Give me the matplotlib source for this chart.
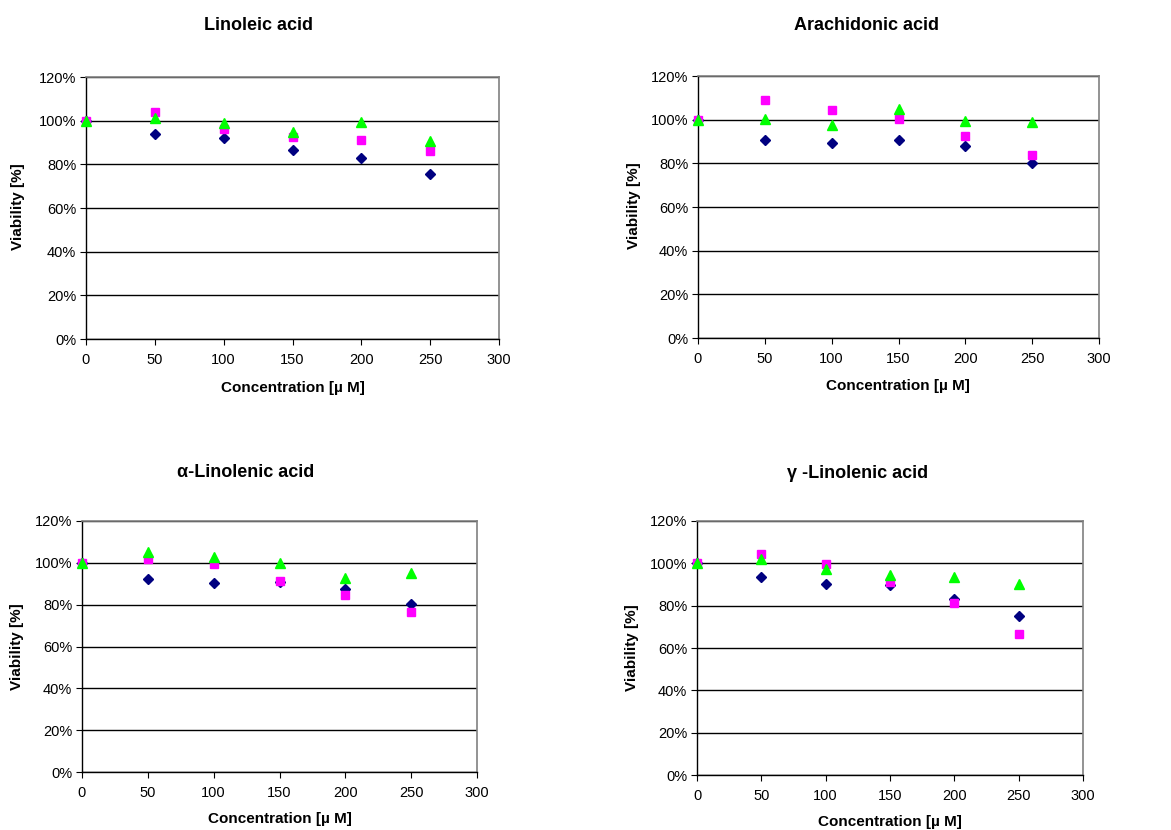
import numpy as np
import matplotlib
matplotlib.use("Agg")
import matplotlib.pyplot as plt
from matplotlib.ticker import PercentFormatter

plt.rcParams['font.family'] = ['Liberation Sans', 'DejaVu Sans']

conc = [0, 50, 100, 150, 200, 250]

titles = ["Linoleic acid", "Arachidonic acid", "\u03b1-Linolenic acid", "\u03b3 -Linolenic acid"]

# viability values (%) per panel: diamond, square, triangle series
linoleic_d = [100, 94.0, 92.1, 86.5, 82.9, 75.8]
linoleic_s = [100, 103.9, 96.0, 92.4, 91.2, 86.2]
linoleic_t = [100, 101.0, 99.0, 95.0, 99.2, 90.9]

arachidonic_d = [100, 90.9, 89.2, 90.5, 88.0, 80.0]
arachidonic_s = [100, 108.8, 104.5, 100.3, 92.4, 83.9]
arachidonic_t = [100, 100.5, 97.7, 104.8, 99.4, 98.8]

alpha_d = [100, 92.1, 90.3, 91.0, 87.3, 80.2]
alpha_s = [100, 102.0, 99.5, 91.3, 84.4, 76.5]
alpha_t = [100, 105.2, 102.7, 99.8, 92.7, 95.1]

gamma_d = [100, 93.4, 90.2, 89.8, 83.1, 75.0]
gamma_s = [100, 104.6, 99.8, 91.0, 81.4, 66.5]
gamma_t = [100, 101.9, 97.2, 94.6, 93.4, 90.4]

panels = [
    (linoleic_d, linoleic_s, linoleic_t),
    (arachidonic_d, arachidonic_s, arachidonic_t),
    (alpha_d, alpha_s, alpha_t),
    (gamma_d, gamma_s, gamma_t),
]

W, H = 1171, 830
fig = plt.figure(figsize=(W / 100, H / 100), dpi=100)

# pixel boxes: left, right, top, bottom
boxes = [(86, 499, 77, 339), (698, 1099, 76, 338), (82, 477, 521, 772), (697, 1083, 521, 775)]
title_pos = [(258, 25), (866, 25), (246, 472), (858, 473)]
xlabel_pos = [(293, 388), (898, 386), (280, 819), (890, 822)]
ylabel_pos = [(18, 207), (634, 206), (17, 647), (632, 648)]

for i, (l, r, t, b) in enumerate(boxes):
    ax = fig.add_axes([l / W, 1 - b / H, (r - l) / W, (b - t) / H])
    d, s, tr = panels[i]
    ax.plot(conc, d, ls='none', marker='D', ms=5.2, color='#000080', clip_on=False, zorder=3)
    ax.plot(conc, s, ls='none', marker='s', ms=6, color='#FF00FF', clip_on=False, zorder=4)
    ax.plot(conc, tr, ls='none', marker='^', ms=6.5, color='#00FF00', clip_on=False, zorder=5)

    ax.set_xlim(0, 300)
    ax.set_ylim(0, 120)
    ax.set_xticks(np.arange(0, 301, 50))
    ax.set_yticks(np.arange(0, 121, 20))
    ax.yaxis.set_major_formatter(PercentFormatter(decimals=0))
    ax.grid(axis='y', color='black', lw=1)
    ax.set_axisbelow(True)
    ax.tick_params(axis='y', labelsize=10.5, length=4, direction='out', color='black', pad=3)
    ax.tick_params(axis='x', labelsize=10.5, length=4, direction='out', color='black', pad=6)
    for side in ['top', 'right']:
        ax.spines[side].set_color('#808080')
        ax.spines[side].set_linewidth(1.2)
    for side in ['left', 'bottom']:
        ax.spines[side].set_color('black')
        ax.spines[side].set_linewidth(1)

    tx, ty = title_pos[i]
    fig.text(tx / W, 1 - ty / H, titles[i], ha='center', va='center', fontsize=13, fontweight='bold')
    xx, xy = xlabel_pos[i]
    fig.text(xx / W, 1 - xy / H, "Concentration [\u00b5 M]", ha='center', va='center', fontsize=11, fontweight='bold')
    yx, yy = ylabel_pos[i]
    fig.text(yx / W, 1 - yy / H, "Viability [%]", ha='center', va='center', fontsize=11, fontweight='bold', rotation=90)

fig.savefig("out.png", dpi=100, facecolor='white')
